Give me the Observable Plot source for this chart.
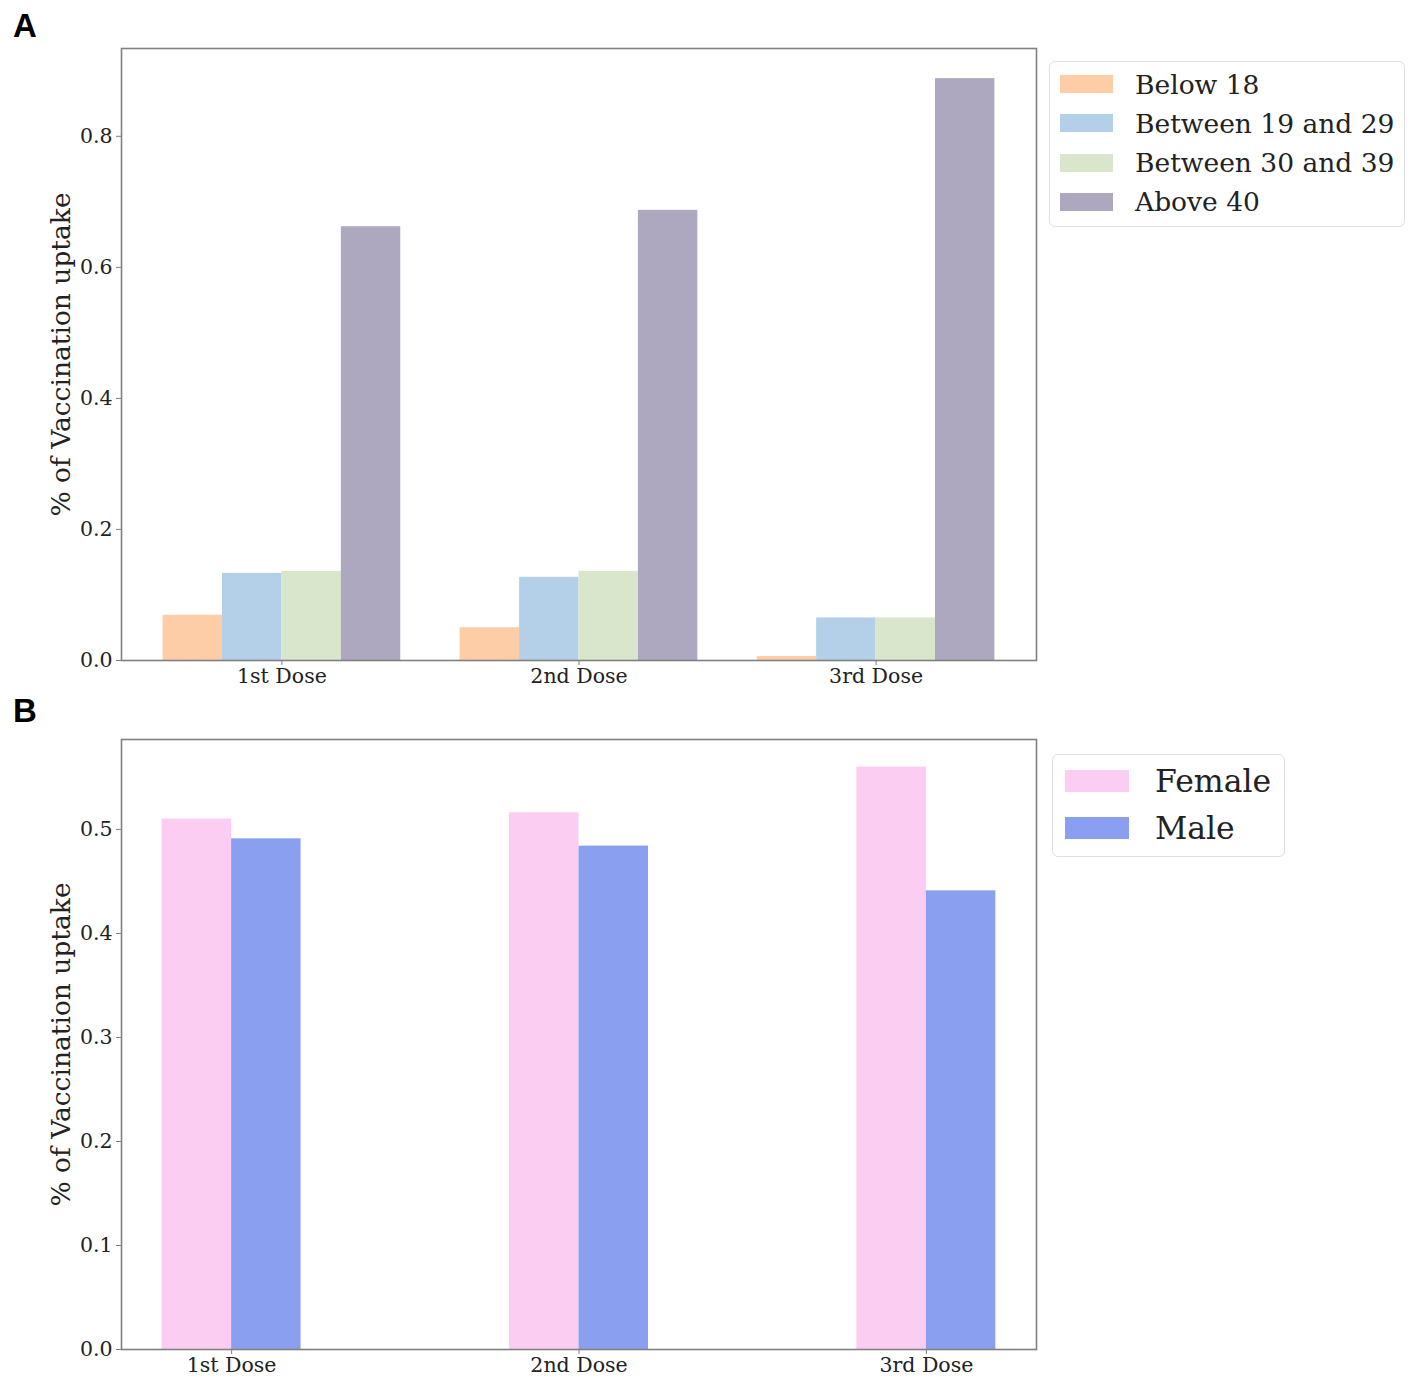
<!DOCTYPE html>
<html><head><meta charset="utf-8">
<script src="https://cdn.jsdelivr.net/npm/d3@7"></script>
<script src="https://cdn.jsdelivr.net/npm/@observablehq/plot@0.6"></script>
<style>
body{margin:0;background:#fff;}
#wrap{position:relative;width:1418px;height:1388px;font-family:"DejaVu Serif",serif;color:#222;}
.panel{position:absolute;left:0;}
.letter{position:absolute;z-index:5;font-family:"Liberation Sans",Arial,sans-serif;font-weight:bold;font-size:33px;color:#000;line-height:1;}
.legend{position:absolute;z-index:4;border:1.5px solid #e0e0e0;border-radius:6px;background:#fff;box-sizing:border-box;}
.row{position:absolute;left:0;display:flex;align-items:center;white-space:nowrap;}
.sw{display:inline-block;}
</style>
</head><body>
<div id="wrap">
  <div id="pa" class="panel" style="top:0px;"></div>
  <div id="pb" class="panel" style="top:695px;"></div>
  <div class="letter" style="left:13px;top:9px;">A</div>
  <div class="letter" style="left:13px;top:694px;">B</div>
  <div id="la" class="legend" style="left:1049px;top:61px;width:356px;height:166px;"></div>
  <div id="lb" class="legend" style="left:1052px;top:754px;width:233px;height:103px;"></div>
</div>
<script>
// ---- data ----
const doses = ["1st Dose", "2nd Dose", "3rd Dose"];
const ageGroups = ["Below 18", "Between 19 and 29", "Between 30 and 39", "Above 40"];
const below18 = [0.069, 0.050, 0.006];
const age19to29 = [0.133, 0.127, 0.065];
const age30to39 = [0.136, 0.136, 0.065];
const above40 = [0.662, 0.687, 0.888];
const ageColors = ["#fdcda8", "#b3d0e8", "#d9e6cc", "#ada7bf"];
const genders = ["Female", "Male"];
const female = [0.510, 0.516, 0.560];
const male = [0.491, 0.484, 0.441];
const genderColors = ["#fccdf2", "#8a9ff0"];
const yTicksA = [0, 0.2, 0.4, 0.6, 0.8];
const yTicksB = [0, 0.1, 0.2, 0.3, 0.4, 0.5];
const yLabel = "% of Vaccination uptake";

// ---- tables ----
const ageSeries = [below18, age19to29, age30to39, above40];
const rowsA = [];
ageSeries.forEach((vals, g) => vals.forEach((v, i) => rowsA.push({i, g, group: ageGroups[g], value: v})));
const genderSeries = [female, male];
const rowsB = [];
genderSeries.forEach((vals, g) => vals.forEach((v, i) => rowsB.push({i, g, group: genders[g], value: v})));

const wA = 0.2, wB = 0.2;
const style = {fontFamily: "DejaVu Serif", fontSize: "20.5px", color: "#222", background: "white", overflow: "visible"};

const plotA = Plot.plot({
  width: 1418, height: 695,
  marginLeft: 121, marginRight: 382, marginTop: 48, marginBottom: 35,
  style,
  x: {domain: [-0.54, 2.54]},
  y: {domain: [0, 0.934]},
  color: {domain: ageGroups, range: ageColors},
  marks: [
    Plot.rect(rowsA, {
      x1: d => d.i + (d.g - 1.5) * wA - wA / 2,
      x2: d => d.i + (d.g - 1.5) * wA + wA / 2,
      y1: 0, y2: "value", fill: "group"
    }),
    Plot.frame({stroke: "#808080", strokeWidth: 1.6}),
    Plot.axisY({ticks: yTicksA, tickFormat: d3.format(".1f"), tickSize: 5, tickPadding: 4, stroke: "#808080", label: null}),
    Plot.axisX({ticks: [0, 1, 2], tickFormat: i => doses[i], tickSize: 5, tickPadding: 3, stroke: "#808080", label: null}),
    Plot.text([yLabel], {frameAnchor: "left", textAnchor: "middle", lineAnchor: "middle", dx: -60, rotate: -90, fontSize: 26.5, fill: "#222"})
  ]
});
document.getElementById("pa").appendChild(plotA);

const plotB = Plot.plot({
  width: 1418, height: 693,
  marginLeft: 121, marginRight: 382, marginTop: 44, marginBottom: 39,
  style,
  x: {domain: [-0.317, 2.317]},
  y: {domain: [0, 0.5865]},
  color: {domain: genders, range: genderColors},
  marks: [
    Plot.rect(rowsB, {
      x1: d => d.i + (d.g - 1) * wB,
      x2: d => d.i + (d.g - 1) * wB + wB,
      y1: 0, y2: "value", fill: "group"
    }),
    Plot.frame({stroke: "#808080", strokeWidth: 1.6}),
    Plot.axisY({ticks: yTicksB, tickFormat: d3.format(".1f"), tickSize: 5, tickPadding: 4, stroke: "#808080", label: null}),
    Plot.axisX({ticks: [0, 1, 2], tickFormat: i => doses[i], tickSize: 5, tickPadding: 3, stroke: "#808080", label: null}),
    Plot.text([yLabel], {frameAnchor: "left", textAnchor: "middle", lineAnchor: "middle", dx: -60, rotate: -90, fontSize: 26.5, fill: "#222"})
  ]
});
document.getElementById("pb").appendChild(plotB);

// ---- legends (HTML) ----
function legend(el, names, colors, opts) {
  names.forEach((n, k) => {
    const row = document.createElement("div");
    row.className = "row";
    row.style.top = (opts.top + k * opts.step) + "px";
    row.style.left = opts.left + "px";
    row.style.height = opts.rowH + "px";
    const sw = document.createElement("span");
    sw.className = "sw";
    sw.style.width = opts.swW + "px";
    sw.style.height = opts.swH + "px";
    sw.style.background = colors[k];
    sw.style.marginRight = opts.gap + "px";
    const t = document.createElement("span");
    t.textContent = n;
    t.style.fontSize = opts.fontSize + "px";
    t.style.fontFamily = "DejaVu Serif";
    t.style.color = "#222";
    row.appendChild(sw); row.appendChild(t);
    el.appendChild(row);
  });
}
legend(document.getElementById("la"), ageGroups, ageColors, {top: 4, step: 39.3, left: 10, rowH: 36, swW: 53, swH: 18, gap: 22, fontSize: 26.5});
legend(document.getElementById("lb"), genders, genderColors, {top: 5, step: 47, left: 12, rowH: 42, swW: 64, swH: 22, gap: 26, fontSize: 31.5});
</script>
</body></html>
